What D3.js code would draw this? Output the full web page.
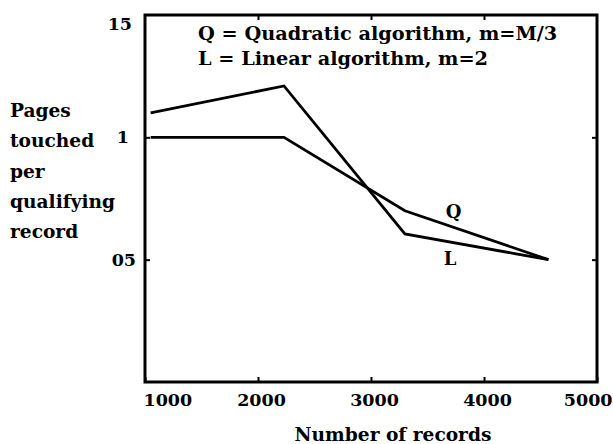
<!DOCTYPE html>
<html lang="en">
    <head>
        <meta charset="utf-8">
        <title>Pages touched per qualifying record</title>
        <script src="https://d3js.org/d3.v7.min.js"></script>
        <style>
            body { margin: 0; background: #fff; }
            text { font-family: "DejaVu Serif", serif; font-weight: bold; fill: #000; }
        </style>
    </head>

    <body>
        <div id="chart"></div>

        <script>
            // data
            var records = [1050, 2230, 3300, 4570];
            var quadratic = [1.00, 1.00, 0.70, 0.50];
            var linear = [1.10, 1.21, 0.605, 0.50];

            var xTicks = [1000, 2000, 3000, 4000, 5000];
            var yTicks = [0.5, 1, 1.5];
            var yTickLabels = ["05", "1", "15"];

            var legendLines = ["Q = Quadratic algorithm, m=M/3", "L = Linear algorithm, m=2"];
            var yTitle = ["Pages", "touched", "per", "qualifying", "record"];

            var width = 613, height = 444;
            var plot = { left: 145, right: 597, top: 15, bottom: 382 };

            var svg = d3.select("#chart")
                        .append("svg")
                        .attr("width", width)
                        .attr("height", height);

            var x = d3.scaleLinear()
                      .domain([1000, 5000])
                      .range([plot.left, plot.right]);

            var y = d3.scaleLinear()
                      .domain([0, 1.5])
                      .range([plot.bottom, plot.top]);

            //bottom axis, ticks pointing inward
            var xAxis = svg.append("g")
                .attr("transform", "translate(0," + plot.bottom + ")")
                .call(d3.axisBottom(x)
                    .tickValues(xTicks)
                    .tickSizeInner(-5)
                    .tickSizeOuter(0)
                    .tickPadding(12)
                    .tickFormat(d3.format("d")));
            xAxis.select(".domain").remove();
            xAxis.attr("font-family", null);
            xAxis.selectAll("text")
                .style("font-size", "17.5px")
                .attr("text-anchor", function(d, i){
                    if (i == 0) return "start";
                    if (i == xTicks.length - 1) return "end";
                    return "middle";
                })
                .attr("dx", function(d, i){
                    if (i == 0) return -2;
                    if (i == xTicks.length - 1) return 15;
                    return 3;
                });

            //top axis ticks only
            var xTop = svg.append("g")
                .attr("transform", "translate(0," + plot.top + ")")
                .call(d3.axisTop(x)
                    .tickValues(xTicks.slice(1, 4))
                    .tickSizeInner(-5)
                    .tickSizeOuter(0)
                    .tickFormat(""));
            xTop.select(".domain").remove();

            //left axis
            var yAxis = svg.append("g")
                .attr("transform", "translate(" + plot.left + ",0)")
                .call(d3.axisLeft(y)
                    .tickValues(yTicks)
                    .tickSizeInner(-5)
                    .tickSizeOuter(0)
                    .tickPadding(13)
                    .tickFormat(function(d, i){ return yTickLabels[i]; }));
            yAxis.select(".domain").remove();
            yAxis.attr("font-family", null);
            yAxis.selectAll("text")
                .style("font-size", "17.5px")
                .attr("dy", function(d){ return d == 1.5 ? "0.85em" : "0.32em"; })
                .attr("dx", function(d){
                    if (d == 1) return -3;
                    if (d == 0.5) return 4;
                    return 0;
                });
            yAxis.selectAll(".tick").filter(function(d){ return d == 1.5; }).select("line").remove();

            //right axis ticks only
            var yRight = svg.append("g")
                .attr("transform", "translate(" + plot.right + ",0)")
                .call(d3.axisRight(y)
                    .tickValues(yTicks.slice(0, 2))
                    .tickSizeInner(-5)
                    .tickSizeOuter(0)
                    .tickFormat(""));
            yRight.select(".domain").remove();

            svg.selectAll(".tick line")
                .attr("stroke", "#000")
                .attr("stroke-width", 2);

            //frame
            svg.append("rect")
                .attr("x", plot.left)
                .attr("y", plot.top)
                .attr("width", plot.right - plot.left)
                .attr("height", plot.bottom - plot.top)
                .attr("fill", "none")
                .attr("stroke", "#000")
                .attr("stroke-width", 3);

            //lines
            var line = d3.line()
                .x(function(d){ return x(d[0]); })
                .y(function(d){ return y(d[1]); });

            [quadratic, linear].forEach(function(series){
                svg.append("path")
                    .datum(records.map(function(r, i){ return [r, series[i]]; }))
                    .attr("d", line)
                    .attr("fill", "none")
                    .attr("stroke", "#000")
                    .attr("stroke-width", 2.8)
                    .attr("stroke-linejoin", "miter");
            });

            //series labels
            svg.append("text")
                .attr("x", x(3730))
                .attr("y", y(0.67))
                .attr("text-anchor", "middle")
                .style("font-size", "18px")
                .text("Q");

            svg.append("text")
                .attr("x", x(3700))
                .attr("y", y(0.48))
                .attr("text-anchor", "middle")
                .style("font-size", "18px")
                .text("L");

            //legend
            svg.append("g")
                .selectAll("text")
                .data(legendLines)
                .enter()
                .append("text")
                .attr("x", 198)
                .attr("y", function(d, i){ return 40 + i * 25; })
                .style("font-size", "19.3px")
                .text(function(d){ return d; });

            //y axis title
            svg.append("g")
                .selectAll("text")
                .data(yTitle)
                .enter()
                .append("text")
                .attr("x", 10)
                .attr("y", function(d, i){ return 117 + i * 30.3; })
                .style("font-size", "18.6px")
                .text(function(d){ return d; });

            //x axis title
            svg.append("text")
                .attr("x", 393)
                .attr("y", 441)
                .attr("text-anchor", "middle")
                .style("font-size", "18.6px")
                .text("Number of records");
        </script>
    </body>
</html>
